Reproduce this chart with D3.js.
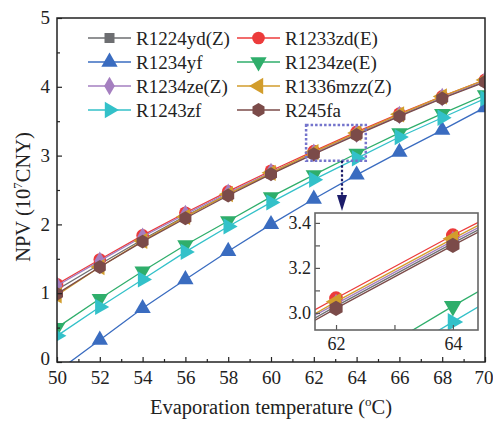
<!DOCTYPE html>
<html>
<head>
<meta charset="utf-8">
<script src="https://cdn.jsdelivr.net/npm/d3@7"></script>
<style>
  body { margin: 0; background: #fff; }
  svg text { font-family: "Liberation Serif", "Times New Roman", serif; fill: #222; }
</style>
</head>
<body>
<svg id="chart"></svg>
<script>
// evaporation temperatures
const temps = [50, 52, 54, 56, 58, 60, 62, 64, 66, 68, 70];

const names = ["R1224yd(Z)", "R1233zd(E)", "R1234yf", "R1234ze(E)",
               "R1234ze(Z)", "R1336mzz(Z)", "R1243zf", "R245fa"];
const colors = ["#6d6e71", "#ec3b3b", "#3a6cc0", "#2fae6b",
                "#a57fc0", "#d29d2c", "#33c1c9", "#7b4b49"];
const shapes = ["square", "circle", "up", "down", "diamond", "left", "right", "hex"];

// NPV (10^7 CNY)
const npv_R1224ydZ  = [1.05, 1.42, 1.78, 2.12, 2.44, 2.74, 3.03, 3.31, 3.58, 3.84, 4.08];
const npv_R1233zdE  = [1.13, 1.49, 1.84, 2.17, 2.48, 2.78, 3.065, 3.345, 3.61, 3.86, 4.10];
const npv_R1234yf   = [-0.14, 0.32, 0.78, 1.20, 1.61, 2.00, 2.37, 2.72, 3.05, 3.37, 3.70];
const npv_R1234zeE  = [0.50, 0.92, 1.32, 1.70, 2.05, 2.40, 2.72, 3.03, 3.33, 3.61, 3.88];
const npv_R1234zeZ  = [1.11, 1.47, 1.82, 2.15, 2.46, 2.76, 3.04, 3.32, 3.59, 3.85, 4.09];
const npv_R1336mzzZ = [0.97, 1.38, 1.76, 2.11, 2.44, 2.75, 3.05, 3.33, 3.60, 3.86, 4.10];
const npv_R1243zf   = [0.38, 0.80, 1.20, 1.60, 1.97, 2.32, 2.65, 2.96, 3.27, 3.55, 3.83];
const npv_R245fa    = [0.99, 1.38, 1.75, 2.09, 2.42, 2.73, 3.02, 3.30, 3.57, 3.83, 4.07];

const allValues = [npv_R1224ydZ, npv_R1233zdE, npv_R1234yf, npv_R1234zeE,
                   npv_R1234zeZ, npv_R1336mzzZ, npv_R1243zf, npv_R245fa];

const xTicks = [50, 52, 54, 56, 58, 60, 62, 64, 66, 68, 70];
const yTicks = [0, 1, 2, 3, 4, 5];
const insetXTicks = [62, 64];
const insetYTicks = [3.0, 3.2, 3.4];

const W = 493, H = 422;
const m = { left: 57, right: 485, top: 18, bottom: 362 };

const svg = d3.select("#chart").attr("width", W).attr("height", H);

const series = names.map((n, i) => ({
  name: n, color: colors[i], shape: shapes[i],
  points: temps.map((t, j) => [t, allValues[i][j]])
}));

// hexagon symbol
const symbolHex = {
  draw(ctx, size) {
    const r = Math.sqrt(size / (1.5 * Math.sqrt(3)));
    for (let k = 0; k < 6; k++) {
      const a = Math.PI / 6 + k * Math.PI / 3;
      const px = r * Math.cos(a), py = r * Math.sin(a);
      if (k === 0) ctx.moveTo(px, py); else ctx.lineTo(px, py);
    }
    ctx.closePath();
  }
};

function markerPath(shape, s) {
  if (shape === "square") return d3.symbol(d3.symbolSquare, 100 * s)();
  if (shape === "circle") return d3.symbol(d3.symbolCircle, 125 * s)();
  if (shape === "diamond") return d3.symbol(d3.symbolDiamond, 100 * s)();
  if (shape === "hex") return d3.symbol(symbolHex, 125 * s)();
  return d3.symbol(d3.symbolTriangle, 115 * s)();
}
function markerRot(shape) {
  return { up: 0, down: 180, left: -90, right: 90 }[shape] || 0;
}

function drawMarkers(sel, s, xs, ys, scale) {
  sel.selectAll("path.mk")
    .data(s.points.filter(p => p[1] >= ys.domain()[0] && p[0] >= xs.domain()[0] && p[0] <= xs.domain()[1]))
    .join("path")
    .attr("class", "mk")
    .attr("d", markerPath(s.shape, scale))
    .attr("fill", s.color)
    .attr("transform", d => `translate(${xs(d[0])},${ys(d[1])}) rotate(${markerRot(s.shape)})`);
}

// ---------- main plot ----------
const x = d3.scaleLinear().domain([50, 70]).range([m.left, m.right]);
const y = d3.scaleLinear().domain([0, 5]).range([m.bottom, m.top]);

svg.append("clipPath").attr("id", "clipMain")
  .append("rect").attr("x", m.left).attr("y", m.top)
  .attr("width", m.right - m.left).attr("height", m.bottom - m.top);

const line = d3.line().x(d => x(d[0])).y(d => y(d[1]));
const plot = svg.append("g").attr("clip-path", "url(#clipMain)");

series.forEach(s => {
  const g = plot.append("g");
  g.append("path").attr("d", line(s.points))
    .attr("fill", "none").attr("stroke", s.color).attr("stroke-width", 1.3);
  drawMarkers(g, s, x, y, 1);
});

// axes (ticks inward)
const xAxis = d3.axisBottom(x).tickValues(d3.range(50, 71, 1))
  .tickSize(-5).tickFormat(d => xTicks.includes(d) ? d : "");
const gx = svg.append("g").attr("transform", `translate(0,${m.bottom})`).call(xAxis);
gx.selectAll(".tick line").attr("y2", d => d % 2 === 0 ? -5 : -3);

const yAxis = d3.axisLeft(y).tickValues(d3.range(0, 5.01, 0.5))
  .tickSize(-5).tickFormat(d => yTicks.includes(d) ? d : "");
const gy = svg.append("g").attr("transform", `translate(${m.left},0)`).call(yAxis);
gy.selectAll(".tick line").attr("x2", d => Number.isInteger(d) ? 5 : 3);

[gx, gy].forEach(g => {
  g.select(".domain").remove();
  g.selectAll(".tick line").attr("stroke", "#222").attr("stroke-width", 1.2);
  g.selectAll("text").style("font-size", "19px").style("font-family", "Liberation Serif").attr("fill", "#222");
});
gx.selectAll("text").attr("y", 6).attr("dy", "0.85em");
gx.selectAll(".tick").filter(d => d === 70).select("text").attr("text-anchor", "end").attr("x", 8);
gy.selectAll("text").attr("x", -7).attr("dy", "0.3em");
gy.selectAll(".tick").filter(d => d === 0).select("text").attr("dy", "0.15em");

svg.append("rect").attr("x", m.left).attr("y", m.top)
  .attr("width", m.right - m.left).attr("height", m.bottom - m.top)
  .attr("fill", "none").attr("stroke", "#222").attr("stroke-width", 1.5);

// axis titles
const xt = svg.append("text").attr("x", (m.left + m.right) / 2).attr("y", 414)
  .attr("text-anchor", "middle").style("font-size", "20.5px");
xt.append("tspan").text("Evaporation temperature (");
xt.append("tspan").text("o").attr("dy", -8).style("font-size", "13px");
xt.append("tspan").text("C)").attr("dy", 8);

const yt = svg.append("text").attr("transform", `translate(30,${(m.top + m.bottom) / 2 + 7}) rotate(-90)`)
  .attr("text-anchor", "middle").style("font-size", "20.5px");
yt.append("tspan").text("NPV (10");
yt.append("tspan").text("7").attr("dy", -8).style("font-size", "13px");
yt.append("tspan").text("CNY)").attr("dy", 8);

// ---------- legend ----------
const legCols = [88, 237];
const legRows = [38, 62, 86, 110];
series.forEach((s, i) => {
  const lx = legCols[i % 2], ly = legRows[Math.floor(i / 2)];
  const g = svg.append("g").attr("transform", `translate(${lx},${ly})`);
  g.append("line").attr("x1", 0).attr("x2", 43).attr("stroke", s.color).attr("stroke-width", 1.3);
  g.append("path").attr("d", markerPath(s.shape, 1))
    .attr("fill", s.color).attr("transform", `translate(21.5,0) rotate(${markerRot(s.shape)})`);
  g.append("text").attr("x", 48).attr("y", 0).attr("dy", "0.35em")
    .style("font-size", "19px").text(s.name);
});

// ---------- zoom box + arrow ----------
const ix = d3.scaleLinear().domain([61.64, 64.43]).range([315, 478]);
const iy = d3.scaleLinear().domain([2.924, 3.444]).range([330, 213]);

svg.append("rect")
  .attr("x", x(61.64)).attr("y", y(3.444))
  .attr("width", x(64.43) - x(61.64)).attr("height", y(2.924) - y(3.444))
  .attr("fill", "none").attr("stroke", "#7474cc").attr("stroke-width", 2.5)
  .attr("stroke-dasharray", "2.5,2");

const ax = 342;
svg.append("line").attr("x1", ax).attr("x2", ax).attr("y1", y(2.924)).attr("y2", 196)
  .attr("stroke", "#1c1c6a").attr("stroke-width", 2.2).attr("stroke-dasharray", "2.5,2");
svg.append("path").attr("d", `M${ax - 5},195 L${ax + 5},195 L${ax},211 Z`).attr("fill", "#1c1c6a");

// ---------- inset ----------
svg.append("rect").attr("x", 315).attr("y", 213).attr("width", 163).attr("height", 117)
  .attr("fill", "#fff");
svg.append("clipPath").attr("id", "clipInset")
  .append("rect").attr("x", 315).attr("y", 213).attr("width", 163).attr("height", 117);

const iline = d3.line().x(d => ix(d[0])).y(d => iy(d[1]));
const inset = svg.append("g").attr("clip-path", "url(#clipInset)");
series.forEach(s => {
  const g = inset.append("g");
  g.append("path").attr("d", iline(s.points))
    .attr("fill", "none").attr("stroke", s.color).attr("stroke-width", 1.3);
  drawMarkers(g, s, ix, iy, 1.2);
});

const igx = svg.append("g").attr("transform", "translate(0,330)")
  .call(d3.axisBottom(ix).tickValues([62, 63, 64]).tickSize(-5)
    .tickFormat(d => insetXTicks.includes(d) ? d : ""));
const igy = svg.append("g").attr("transform", "translate(315,0)")
  .call(d3.axisLeft(iy).tickValues([3.0, 3.1, 3.2, 3.3, 3.4]).tickSize(-5)
    .tickFormat(d => insetYTicks.some(t => Math.abs(t - d) < 1e-9) ? d3.format(".1f")(d) : ""));
[igx, igy].forEach(g => {
  g.select(".domain").remove();
  g.selectAll(".tick line").attr("stroke", "#555").attr("stroke-width", 1.2);
  g.selectAll("text").style("font-size", "18px").style("font-family", "Liberation Serif").attr("fill", "#222");
});
igx.selectAll("text").attr("y", 5).attr("dy", "0.85em");
igy.selectAll("text").attr("x", -4);

svg.append("rect").attr("x", 315).attr("y", 213).attr("width", 163).attr("height", 117)
  .attr("fill", "none").attr("stroke", "#666").attr("stroke-width", 1.6);
</script>
</body>
</html>
